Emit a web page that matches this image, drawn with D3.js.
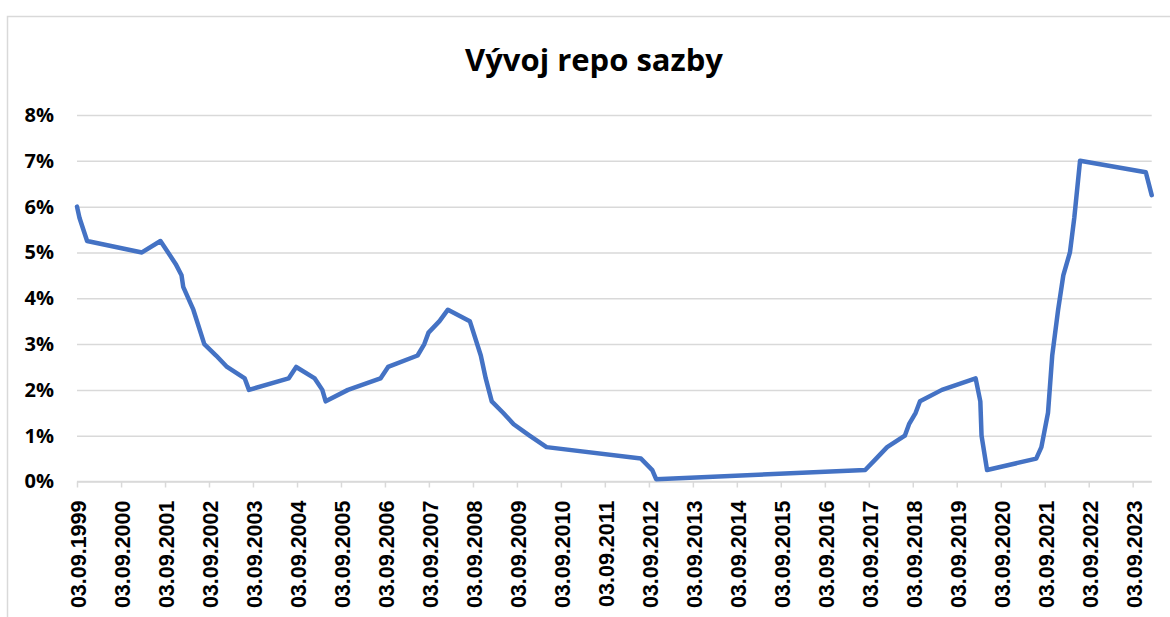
<!DOCTYPE html>
<html>
<head>
<meta charset="utf-8">
<script src="https://cdn.jsdelivr.net/npm/d3@7"></script>
<style>
  html, body { margin: 0; padding: 0; background: #fff; }
  svg { display: block; }
</style>
</head>
<body>
<svg id="chart" width="1170" height="617"></svg>
<script>
// ---- data ----
const titleText = "Vývoj repo sazby";
const dates = [
  "1999-09-03","1999-09-24","1999-11-26","2001-02-23","2001-07-27","2001-11-30",
  "2002-01-18","2002-02-01","2002-04-26","2002-07-26","2002-11-01","2003-01-31",
  "2003-06-27","2003-08-01","2004-06-25","2004-08-27","2005-01-28","2005-04-01",
  "2005-04-29","2005-10-31","2006-07-28","2006-09-29","2007-06-01","2007-07-27",
  "2007-08-31","2007-11-30","2008-02-08","2008-08-08","2008-11-07","2008-12-18",
  "2009-02-06","2009-05-11","2009-08-07","2009-12-17","2010-05-07","2012-06-29",
  "2012-10-01","2012-11-02","2017-08-04","2017-11-03","2018-02-02","2018-06-29",
  "2018-08-03","2018-09-27","2018-11-02","2019-05-03","2020-02-07","2020-03-17",
  "2020-03-27","2020-05-12","2021-06-24","2021-08-06","2021-09-30","2021-11-04",
  "2021-12-23","2022-02-04","2022-03-31","2022-05-06","2022-06-23","2023-12-21",
  "2024-02-08"
];
const rates = [
  6.00,5.75,5.25,5.00,5.25,4.75,
  4.50,4.25,3.75,3.00,2.75,2.50,
  2.25,2.00,2.25,2.50,2.25,2.00,
  1.75,2.00,2.25,2.50,2.75,3.00,
  3.25,3.50,3.75,3.50,2.75,2.25,
  1.75,1.50,1.25,1.00,0.75,0.50,
  0.25,0.05,0.25,0.50,0.75,1.00,
  1.25,1.50,1.75,2.00,2.25,1.75,
  1.00,0.25,0.50,0.75,1.50,2.75,
  3.75,4.50,5.00,5.75,7.00,6.75,
  6.25
];
const xTickLabels = [
  "03.09.1999","03.09.2000","03.09.2001","03.09.2002","03.09.2003","03.09.2004",
  "03.09.2005","03.09.2006","03.09.2007","03.09.2008","03.09.2009","03.09.2010",
  "03.09.2011","03.09.2012","03.09.2013","03.09.2014","03.09.2015","03.09.2016",
  "03.09.2017","03.09.2018","03.09.2019","03.09.2020","03.09.2021","03.09.2022",
  "03.09.2023"
];
const yTicks = [0, 0.01, 0.02, 0.03, 0.04, 0.05, 0.06, 0.07, 0.08];

// ---- drawing ----
const parseISO = d3.timeParse("%Y-%m-%d");
const parseLbl = d3.timeParse("%d.%m.%Y");
const points = dates.map((d, i) => ({ date: parseISO(d), value: rates[i] / 100 }));
const tickDates = xTickLabels.map(parseLbl);

const svg = d3.select("#chart");
const pL = 77, pR = 1151.7, pT = 115, pB = 481.5;

const x = d3.scaleTime()
  .domain([points[0].date, points[points.length - 1].date])
  .range([pL, pR]);
const y = d3.scaleLinear().domain([0, 0.08]).range([pB, pT]);

// chart border
svg.append("rect")
  .attr("x", 7.5).attr("y", 16.5)
  .attr("width", 1300).attr("height", 800)
  .attr("fill", "none").attr("stroke", "#d9d9d9").attr("stroke-width", 1.5);

// title
svg.append("text")
  .attr("x", 594).attr("y", 71)
  .attr("text-anchor", "middle")
  .attr("font-family", "'Open Sans', sans-serif")
  .attr("font-weight", "bold")
  .attr("font-size", 31)
  .attr("fill", "#000")
  .text(titleText);

// gridlines + y labels
const yAxis = d3.axisLeft(y)
  .tickValues(yTicks)
  .tickSize(-(pR - pL))
  .tickFormat(d3.format(".0%"))
  .tickPadding(23);
const gy = svg.append("g").attr("transform", `translate(${pL},0)`).call(yAxis);
gy.select(".domain").remove();
gy.selectAll(".tick line").attr("stroke", "#d9d9d9").attr("stroke-width", 1.5);
gy.selectAll(".tick text")
  .attr("font-family", "'Open Sans', sans-serif")
  .attr("font-weight", "bold")
  .attr("font-size", 20)
  .attr("fill", "#000");

// x axis
const xAxis = d3.axisBottom(x)
  .tickValues(tickDates)
  .tickSize(6)
  .tickFormat((d, i) => xTickLabels[i]);
const gx = svg.append("g").attr("transform", `translate(0,${pB})`).call(xAxis);
gx.select(".domain").attr("stroke", "#d9d9d9").attr("stroke-width", 1.5)
  .attr("d", `M${pL},0H${pR}`);
gx.selectAll(".tick line").attr("stroke", "#d9d9d9").attr("stroke-width", 1.5);
gx.selectAll(".tick text")
  .attr("font-family", "'Liberation Sans', Arial, sans-serif")
  .attr("font-weight", "bold")
  .attr("font-size", 21.5)
  .attr("fill", "#000")
  .attr("text-anchor", "end")
  .attr("transform", "translate(1,19) rotate(-90)")
  .attr("x", 0).attr("y", 0).attr("dy", "0.36em");

// line
const line = d3.line().x(d => x(d.date)).y(d => y(d.value));
svg.append("path")
  .datum(points)
  .attr("d", line)
  .attr("fill", "none")
  .attr("stroke", "#4472c4")
  .attr("stroke-width", 4.5)
  .attr("stroke-linejoin", "round")
  .attr("stroke-linecap", "round");
</script>
</body>
</html>
